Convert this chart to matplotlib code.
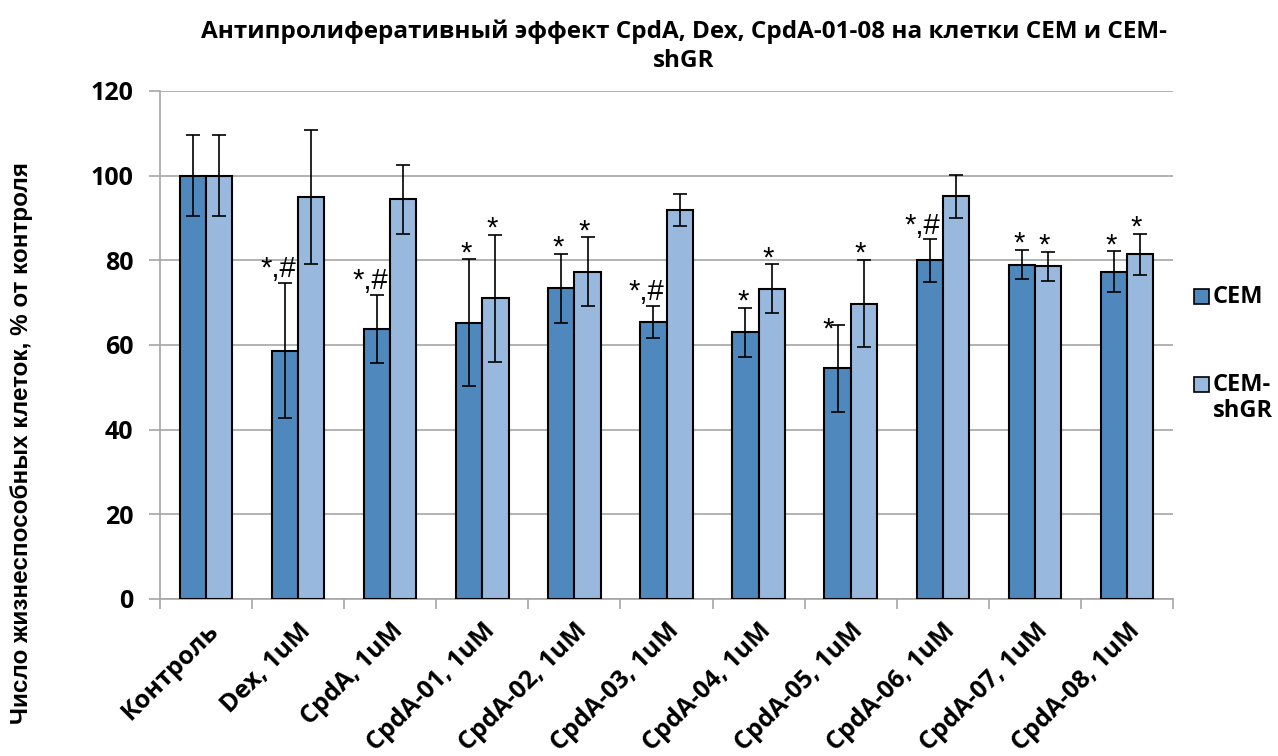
import matplotlib
matplotlib.use("Agg")
import matplotlib.pyplot as plt
from matplotlib.patches import Rectangle
import numpy as np

# Data
categories = ["Контроль", "Dex, 1uM", "CpdA, 1uM", "CpdA-01, 1uM", "CpdA-02, 1uM",
              "CpdA-03, 1uM", "CpdA-04, 1uM", "CpdA-05, 1uM", "CpdA-06, 1uM",
              "CpdA-07, 1uM", "CpdA-08, 1uM"]
cem = [100, 58.7, 63.8, 65.2, 73.4, 65.4, 63.0, 54.5, 80.0, 79.0, 77.3]
cem_err = [9.5, 16.0, 8.1, 15.0, 8.2, 3.8, 5.8, 10.3, 5.0, 3.5, 4.8]
shgr = [100, 94.9, 94.4, 71.0, 77.3, 91.9, 73.3, 69.8, 95.1, 78.6, 81.4]
shgr_err = [9.5, 15.8, 8.2, 15.0, 8.2, 3.8, 5.8, 10.3, 5.0, 3.4, 4.9]
cem_marks = ["", "*,#", "*,#", "*", "*", "*,#", "*", "*", "*,#", "*", "*"]
shgr_marks = ["", "", "", "*", "*", "", "*", "*", "", "*", "*"]
series_names = ["CEM", "CEM-\nshGR"]
colors = ["#4F88BC", "#98B8DE"]

calibri = ["Open Sans", "DejaVu Sans"]
arial = ["Liberation Sans", "DejaVu Sans"]
W, H = 1278, 756

fig = plt.figure(figsize=(W / 100, H / 100), dpi=100)
ax = fig.add_axes([160 / W, 1 - 599 / H, 1013 / W, 508 / H])

x = np.arange(len(categories))
w = 0.285
err_kw = dict(ecolor="black", elinewidth=1.2, capsize=5, capthick=1.2)
ax.bar(x - w / 2, cem, w, yerr=cem_err, color=colors[0], edgecolor="black",
       linewidth=1.5, error_kw=err_kw, zorder=3)
ax.bar(x + w / 2, shgr, w, yerr=shgr_err, color=colors[1], edgecolor="black",
       linewidth=1.5, error_kw=err_kw, zorder=3)

# significance marks above the error bars
def mark(text, xpos, ytop, dx, dy):
    ax.annotate(text, (xpos, ytop), xytext=(dx, dy), textcoords="offset points",
                ha="center", va="baseline", fontsize=21, family=arial)

for i in range(len(categories)):
    m = cem_marks[i]
    if m == "*,#":
        mark(m, x[i] - w / 2, cem[i] + cem_err[i], -5, 4)
    elif m and i == 7:
        mark(m, x[i] - w / 2, cem[i] + cem_err[i], -6.5, -9)
    elif m:
        mark(m, x[i] - w / 2, cem[i] + cem_err[i], -2, -1.5)
    if shgr_marks[i]:
        mark(shgr_marks[i], x[i] + w / 2, shgr[i] + shgr_err[i], -2.5, -1.5)

ax.set_xlim(-0.5, len(categories) - 0.5)
ax.set_ylim(0, 120)
ax.set_yticks(np.arange(0, 121, 20))
ax.yaxis.grid(True, color="#A6A6A6", linewidth=1.2, zorder=0)
ax.set_axisbelow(True)

ax.set_xticks(x)
ax.set_xticklabels(categories, rotation=45, ha="right", rotation_mode="anchor",
                   fontsize=18, fontweight="bold", family=calibri)
ax.set_xticks(np.arange(-0.5, len(categories), 1), minor=True)
ax.tick_params(axis="x", which="major", length=0, pad=14)
ax.tick_params(axis="x", which="minor", length=7, color="#A6A6A6", width=1.2)
ax.tick_params(axis="y", length=8, color="#A6A6A6", width=1.2, pad=11)
for lab in ax.get_yticklabels():
    lab.set_fontsize(18)
    lab.set_fontweight("bold")
    lab.set_family(calibri)

for side in ["top", "right"]:
    ax.spines[side].set_visible(False)
for side in ["left", "bottom"]:
    ax.spines[side].set_color("#A6A6A6")
    ax.spines[side].set_linewidth(1.2)

fig.text(684 / W, 1 - 46 / H,
         "Антипролиферативный эффект CpdA, Dex, CpdA-01-08 на клетки CEM и CEM-\nshGR",
         ha="center", va="center", fontsize=17.5, fontweight="bold", family=calibri,
         linespacing=1.3)
fig.text(22 / W, 1 - 443 / H, "Число жизнеспособных клеток, % от контроля",
         rotation=90, ha="center", va="center", fontsize=17.5, fontweight="bold",
         family=arial)

# legend on the right, square aligned with the first line of each label
for k, (name, ytop) in enumerate(zip(series_names, [289, 377])):
    fig.add_artist(Rectangle((1194 / W, 1 - (ytop + 15) / H), 15 / W, 15 / H,
                             facecolor=colors[k], edgecolor="black", linewidth=1.2,
                             transform=fig.transFigure))
    fig.text(1213 / W, 1 - (ytop - 4) / H, name, ha="left", va="top",
             fontsize=17, fontweight="bold", family=calibri, linespacing=1.1)

fig.savefig("out.png", dpi=100)
